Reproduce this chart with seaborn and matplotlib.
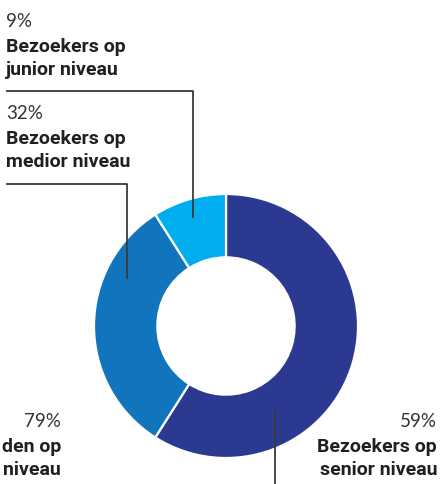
import matplotlib
matplotlib.use("Agg")
import matplotlib.pyplot as plt
import seaborn as sns
import numpy as np

# share of visitors per level, drawn clockwise from 12 o'clock
levels = ["senior", "medior", "junior"]
shares = [59, 32, 9]
colors = ["#2b3990", "#1075bc", "#00aeef"]

# label texts (the last label is cut off by the left edge in the source)
pct_labels = ["59%", "32%", "9%", "79%"]
name_labels = [
    ["Bezoekers op", "senior niveau"],
    ["Bezoekers op", "medior niveau"],
    ["Bezoekers op", "junior niveau"],
    ["den op", "niveau"],
]

W, H = 442, 484
CX, CY, R = 226, 326, 132  # donut centre / radius in pixels

sns.set_theme(style="white")
PCT_FONT = ["Lato", "DejaVu Sans"]
BOLD_FONT = ["Roboto", "DejaVu Sans"]

fig = plt.figure(figsize=(W / 100, H / 100), dpi=100)

# donut
ax = fig.add_axes([(CX - R) / W, (H - CY - R) / H, 2 * R / W, 2 * R / H])
ax.pie(shares, colors=colors, startangle=90, counterclock=False, radius=1,
       wedgeprops=dict(width=0.48, edgecolor="white", linewidth=1.6))
ax.set_xlim(-1, 1)
ax.set_ylim(-1, 1)
ax.axis("off")

# overlay in pixel units for labels + leader lines
ov = fig.add_axes([0, 0, 1, 1])
ov.set_xlim(0, W)
ov.set_ylim(H, 0)
ov.axis("off")
ov.patch.set_alpha(0)

def label(x, y, pct, lines, ha="left", step=23):
    ov.text(x, y, pct, ha=ha, va="baseline", fontsize=13.5, color="#333333",
            family=PCT_FONT, fontweight="normal")
    for i, t in enumerate(lines):
        ov.text(x, y + 25 + i * step, t, ha=ha, va="baseline", fontsize=14,
                color="#231f20", family=BOLD_FONT, fontweight="bold")

def anchor(angle, r):
    a = np.deg2rad(angle)
    return CX + r * R * np.cos(a), CY - r * R * np.sin(a)

lc = dict(color="#3a3a3a", lw=1.3, solid_capstyle="butt")

# junior
label(6, 27, pct_labels[2], name_labels[2])
ax_, ay_ = anchor(107, 0.856)
ov.plot([6, ax_, ax_], [91, 91, ay_], **lc)

# medior
label(6, 119, pct_labels[1], name_labels[1])
ax_, ay_ = anchor(154.6, 0.83)
ov.plot([6, ax_, ax_], [184, 184, ay_], **lc)

# senior
label(437, 427, pct_labels[0], name_labels[0], ha="right")
ax_, ay_ = anchor(-59.7, 0.735)
ov.plot([ax_, ax_], [ay_, H + 5], clip_on=False, **lc)

# label at the left edge
label(61, 427, pct_labels[3], name_labels[3], ha="right")

fig.savefig("out.png", dpi=100)
plt.close(fig)
